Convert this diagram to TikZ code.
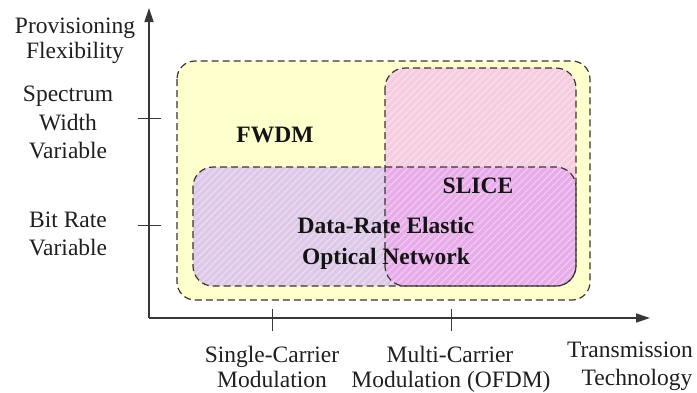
\documentclass[tikz,border=0pt]{standalone}
\usepackage{fontspec}
\setmainfont{Liberation Serif}
\usetikzlibrary{arrows.meta,patterns.meta}
\definecolor{fwdmfill}{RGB}{255,255,205}
\definecolor{drefill}{RGB}{222,200,232}
\definecolor{slicefill}{RGB}{246,205,224}
\definecolor{bothfill}{RGB}{232,172,234}
\definecolor{edgecol}{RGB}{60,52,50}
\definecolor{axiscol}{RGB}{55,55,55}
\tikzset{
  lbl/.style={font=\rmfamily\fontsize{23.5}{28}\selectfont, text=black!88, anchor=base, inner sep=0pt},
  bold/.style={font=\rmfamily\fontsize{23.5}{28}\selectfont\bfseries, text=black!92, anchor=base, inner sep=0pt},
  region/.style={draw=edgecol, line width=1.2pt, dash pattern=on 7pt off 4pt},
  axis/.style={draw=axiscol, line width=1.4pt, -{Triangle[length=14pt,width=9pt]}},
  tick/.style={draw=axiscol, line width=1pt},
  hatch/.style={pattern={Lines[angle=45,distance=5pt,line width=1.3pt]}, pattern color=white, opacity=0.35}
}
\begin{document}
\begin{tikzpicture}[x=1pt,y=-1pt]
\useasboundingbox (0,0) rectangle (697,392);

% axes
\coordinate (o) at (149,318);
\coordinate (ytop) at (149,8);
\coordinate (xend) at (650,318);
\draw[axis] (o) -- (ytop);
\draw[axis] (o) -- (xend);

% ticks
\coordinate (ty1a) at (138,118); \coordinate (ty1b) at (161,118);
\coordinate (ty2a) at (138,225); \coordinate (ty2b) at (161,225);
\coordinate (tx1a) at (272,309); \coordinate (tx1b) at (272,331);
\coordinate (tx2a) at (451,309); \coordinate (tx2b) at (451,331);
\draw[tick] (ty1a) -- (ty1b);
\draw[tick] (ty2a) -- (ty2b);
\draw[tick] (tx1a) -- (tx1b);
\draw[tick] (tx2a) -- (tx2b);

% FWDM region
\fill[fwdmfill, rounded corners=18pt] (177,61) rectangle (590,300);

% data-rate elastic and SLICE regions with their overlap
\fill[drefill, rounded corners=20pt] (193,167) rectangle (576,286);
\fill[slicefill, rounded corners=20pt] (385,68) rectangle (576,286);
\begin{scope}
  \clip[rounded corners=20pt] (193,167) rectangle (576,286);
  \fill[bothfill, rounded corners=20pt] (385,68) rectangle (576,286);
\end{scope}
\fill[hatch, rounded corners=20pt] (193,167) rectangle (576,286);
\begin{scope}
  \clip (0,0) rectangle (697,167);
  \fill[hatch, rounded corners=20pt] (385,68) rectangle (576,286);
\end{scope}

% dashed outlines
\draw[region, rounded corners=18pt] (177,61) rectangle (590,300);
\draw[region, rounded corners=20pt] (193,167) rectangle (576,286);
\draw[region, rounded corners=20pt] (385,68) rectangle (576,286);

% region labels
\node[bold] (fwdm) at (275,142) {FWDM};
\node[bold] (slice) at (478,193) {SLICE};
\node[bold] (dre1) at (386,233) {Data-Rate Elastic};
\node[bold] (dre2) at (386,264) {Optical Network};

% vertical axis labels
\node[lbl] (ya1) at (75,33) {Provisioning};
\node[lbl] (ya2) at (75,58) {Flexibility};
\node[lbl] (sw1) at (68,101) {Spectrum};
\node[lbl] (sw2) at (68,130) {Width};
\node[lbl] (sw3) at (68,158) {Variable};
\node[lbl] (br1) at (68,227) {Bit Rate};
\node[lbl] (br2) at (68,255) {Variable};

% horizontal axis labels
\node[lbl] (sc1) at (272,362) {Single-Carrier};
\node[lbl] (sc2) at (272,387) {Modulation};
\node[lbl] (mc1) at (450,362) {Multi-Carrier};
\node[lbl] (mc2) at (451,387) {Modulation (OFDM)};
\node[lbl] (tt1) at (630,357) {Transmission};
\node[lbl] (tt2) at (637,385) {Technology};
\end{tikzpicture}
\end{document}
